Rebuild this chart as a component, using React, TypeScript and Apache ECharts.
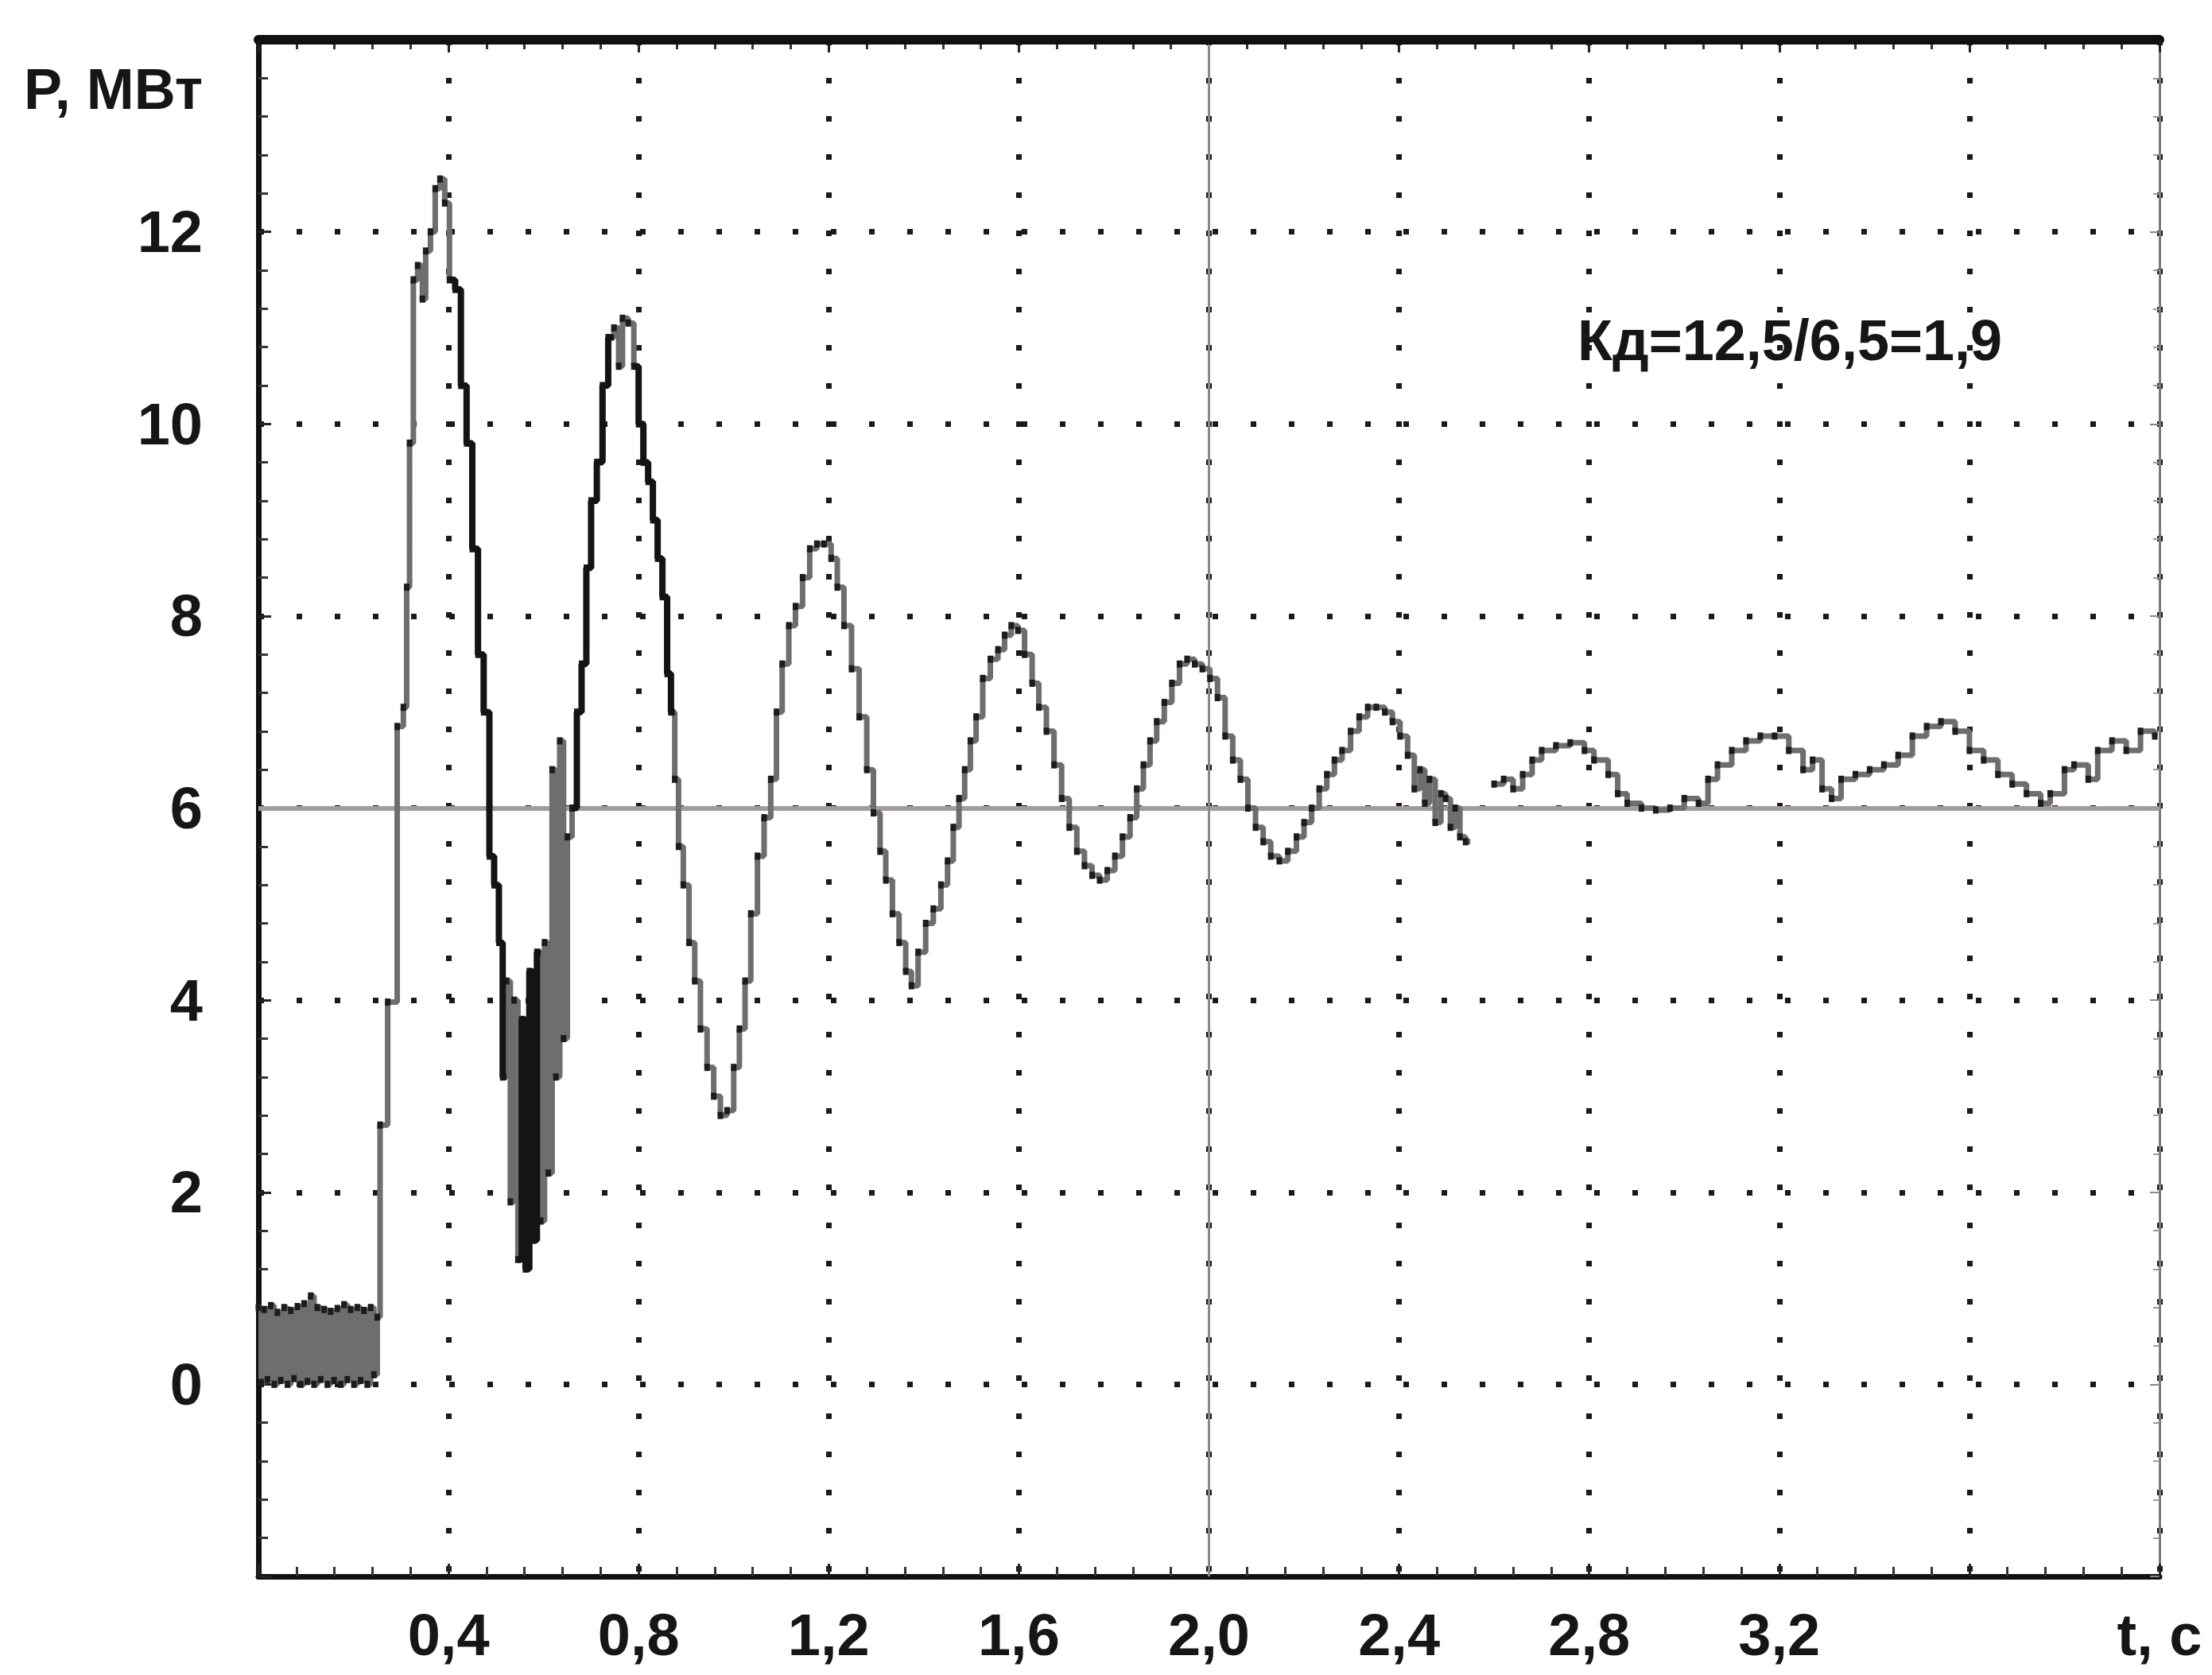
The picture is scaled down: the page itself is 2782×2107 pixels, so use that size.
import React, { useEffect, useRef } from 'react';
import * as echarts from 'echarts';

// Oscillogram of active power P (MW) versus time t (s)
const powerTrace: Array<[number, number | null]> = [
  [0.000, 0.80], [0.006, 0.02], [0.012, 0.78], [0.019, 0.05], [0.026, 0.82], [0.033, 0.00],
  [0.040, 0.75], [0.047, 0.04], [0.054, 0.80], [0.061, 0.00], [0.068, 0.77], [0.075, 0.06],
  [0.082, 0.81], [0.089, 0.00], [0.096, 0.84], [0.103, 0.03], [0.110, 0.92], [0.117, 0.00],
  [0.124, 0.80], [0.131, 0.05], [0.138, 0.78], [0.145, 0.00], [0.152, 0.76], [0.159, 0.04],
  [0.166, 0.79], [0.173, 0.00], [0.180, 0.83], [0.187, 0.05], [0.194, 0.78], [0.201, 0.00],
  [0.208, 0.80], [0.215, 0.04], [0.222, 0.77], [0.229, 0.00], [0.236, 0.80], [0.243, 0.10],
  [0.250, 0.70], [0.256, 2.70], [0.272, 3.98], [0.292, 6.85], [0.305, 7.05], [0.312, 8.30],
  [0.318, 9.80], [0.326, 11.50], [0.335, 11.65], [0.345, 11.30], [0.352, 11.80], [0.362, 12.00],
  [0.372, 12.45], [0.382, 12.55], [0.392, 12.30], [0.402, 11.50], [0.414, 11.40], [0.426, 10.40],
  [0.438, 9.80], [0.450, 8.70], [0.462, 7.60], [0.474, 7.00], [0.486, 5.50], [0.496, 5.20],
  [0.506, 4.60], [0.514, 3.20], [0.522, 4.20], [0.530, 1.90], [0.538, 4.00], [0.546, 1.30],
  [0.554, 3.80], [0.562, 1.20], [0.570, 4.30], [0.578, 1.50], [0.586, 4.50], [0.594, 1.70],
  [0.602, 4.60], [0.610, 2.20], [0.618, 6.40], [0.626, 3.20], [0.634, 6.70], [0.642, 3.60],
  [0.650, 5.70], [0.660, 6.00], [0.670, 7.00], [0.680, 7.50], [0.690, 8.50], [0.700, 9.20],
  [0.712, 9.60], [0.724, 10.40], [0.736, 10.90], [0.748, 11.00], [0.758, 10.60], [0.766, 11.10],
  [0.778, 11.05], [0.790, 10.60], [0.800, 10.00], [0.810, 9.60], [0.820, 9.40], [0.830, 9.00],
  [0.840, 8.60], [0.850, 8.20], [0.860, 7.40], [0.868, 7.00], [0.876, 6.30], [0.884, 5.60],
  [0.894, 5.20], [0.906, 4.60], [0.918, 4.20], [0.930, 3.70], [0.944, 3.30], [0.958, 3.00],
  [0.972, 2.80], [0.986, 2.85], [1.000, 3.30], [1.012, 3.70], [1.024, 4.20], [1.036, 4.90],
  [1.050, 5.50], [1.064, 5.90], [1.078, 6.30], [1.090, 7.00], [1.102, 7.50], [1.116, 7.90],
  [1.130, 8.10], [1.145, 8.40], [1.160, 8.70], [1.175, 8.75], [1.190, 8.75], [1.205, 8.60],
  [1.218, 8.30], [1.232, 7.90], [1.248, 7.45], [1.264, 6.95], [1.280, 6.40], [1.294, 5.95],
  [1.308, 5.55], [1.320, 5.25], [1.334, 4.90], [1.348, 4.60], [1.362, 4.30], [1.374, 4.15],
  [1.388, 4.50], [1.404, 4.80], [1.420, 4.95], [1.436, 5.20], [1.450, 5.45], [1.462, 5.80],
  [1.474, 6.10], [1.486, 6.40], [1.498, 6.70], [1.510, 6.95], [1.524, 7.35], [1.540, 7.55],
  [1.556, 7.65], [1.570, 7.80], [1.584, 7.90], [1.598, 7.85], [1.612, 7.60], [1.628, 7.30],
  [1.642, 7.05], [1.658, 6.80], [1.674, 6.45], [1.690, 6.10], [1.706, 5.80], [1.722, 5.55],
  [1.738, 5.40], [1.754, 5.30], [1.770, 5.25], [1.786, 5.35], [1.802, 5.50], [1.818, 5.70],
  [1.834, 5.90], [1.848, 6.20], [1.862, 6.45], [1.876, 6.70], [1.890, 6.90], [1.906, 7.10],
  [1.922, 7.30], [1.938, 7.50], [1.954, 7.55], [1.970, 7.50], [1.986, 7.45], [2.002, 7.35],
  [2.018, 7.15], [2.034, 6.75], [2.050, 6.50], [2.066, 6.30], [2.082, 6.00], [2.098, 5.80],
  [2.114, 5.65], [2.130, 5.50], [2.148, 5.45], [2.166, 5.55], [2.184, 5.70], [2.200, 5.85],
  [2.216, 6.00], [2.232, 6.20], [2.248, 6.35], [2.264, 6.50], [2.280, 6.60], [2.298, 6.80],
  [2.316, 6.95], [2.334, 7.05], [2.352, 7.05], [2.370, 7.00], [2.386, 6.90], [2.402, 6.75],
  [2.418, 6.55], [2.432, 6.20], [2.444, 6.40], [2.454, 6.05], [2.464, 6.30], [2.476, 5.85],
  [2.488, 6.15], [2.498, 6.10], [2.508, 5.80], [2.518, 6.00], [2.528, 5.70], [2.540, 5.65],
  [2.550, null],
  [2.600, 6.25], [2.620, 6.30], [2.640, 6.20], [2.660, 6.35], [2.680, 6.50], [2.700, 6.60],
  [2.730, 6.65], [2.760, 6.68], [2.790, 6.60], [2.810, 6.50], [2.840, 6.35], [2.860, 6.15],
  [2.880, 6.05], [2.910, 6.00], [2.940, 5.98], [2.970, 6.00], [3.000, 6.10], [3.030, 6.05],
  [3.050, 6.30], [3.070, 6.45], [3.100, 6.60], [3.130, 6.70], [3.160, 6.75], [3.190, 6.75],
  [3.220, 6.60], [3.250, 6.40], [3.270, 6.50], [3.290, 6.20], [3.310, 6.10], [3.330, 6.30],
  [3.360, 6.35], [3.390, 6.40], [3.420, 6.45], [3.450, 6.55], [3.480, 6.75], [3.510, 6.85],
  [3.540, 6.90], [3.570, 6.80], [3.600, 6.60], [3.630, 6.50], [3.660, 6.35], [3.690, 6.25],
  [3.720, 6.15], [3.750, 6.05], [3.770, 6.15], [3.800, 6.40], [3.820, 6.45], [3.850, 6.30],
  [3.870, 6.60], [3.900, 6.70], [3.930, 6.60], [3.960, 6.80], [3.990, 6.75],
];

// time ranges where the recorded trace is drawn in black
const darkRanges: Array<[number, number]> = [
  [0.395, 0.52], [0.545, 0.59], [0.66, 0.745], [0.79, 0.875],
];

const xTickValues = [0.4, 0.8, 1.2, 1.6, 2.0, 2.4, 2.8, 3.2, 4.0];
const xTickLabels = ['0,4', '0,8', '1,2', '1,6', '2,0', '2,4', '2,8', '3,2', 't, c'];
const yTickValues = [0, 2, 4, 6, 8, 10, 12];
const yTickLabels = ['0', '2', '4', '6', '8', '10', '12'];

const yAxisTitle = 'P, МВт';
const annotationText = 'Кд=12,5/6,5=1,9';
const referenceLevel = 6;
const markerTime = 2.0;
const topBorderLevel = 14;

const FONT = '"Liberation Sans", Arial, Helvetica, sans-serif';

function pick(values: number[], labels: string[], v: number): string {
  const i = values.findIndex((t) => Math.abs(t - v) < 1e-6);
  return i >= 0 ? labels[i] : '';
}

function buildOption(): echarts.EChartsOption {
  const darkTrace = powerTrace.map(([t, p]) =>
    darkRanges.some(([a, b]) => t >= a && t <= b) ? [t, p] : [t, null]
  );
  const labelStyle = {
    fontFamily: FONT,
    fontWeight: 'bold' as const,
    fontSize: 74,
    color: '#161616',
  };
  const dotted = { color: '#1a1a1a', width: 7, type: [7, 41] as number[] };
  return {
    animation: false,
    backgroundColor: '#ffffff',
    grid: { left: 325, right: 66, top: 50, bottom: 124, containLabel: false },
    xAxis: [
      {
        type: 'value',
        min: 0,
        max: 4,
        interval: 0.4,
        position: 'bottom',
        axisLine: { show: true, onZero: false, lineStyle: { color: '#111', width: 7 } },
        axisTick: { show: true, inside: true, length: 16, lineStyle: { color: '#222', width: 3 } },
        minorTick: { show: true, splitNumber: 5, length: 12, lineStyle: { color: '#333', width: 3 } },
        axisLabel: {
          ...labelStyle,
          margin: 36,
          formatter: (v: number) => pick(xTickValues, xTickLabels, v),
        },
        splitLine: { show: true, lineStyle: dotted },
      },
      {
        type: 'value',
        min: 0,
        max: 4,
        interval: 0.4,
        position: 'top',
        axisLine: { show: true, onZero: false, lineStyle: { color: '#0d0d0d', width: 12 } },
        axisTick: { show: true, inside: true, length: 16, lineStyle: { color: '#222', width: 3 } },
        minorTick: { show: true, splitNumber: 5, length: 12, lineStyle: { color: '#333', width: 3 } },
        axisLabel: { show: false },
        splitLine: { show: false },
      },
    ],
    yAxis: [
      {
        type: 'value',
        min: -2,
        max: 14,
        interval: 2,
        position: 'left',
        axisLine: { show: true, onZero: false, lineStyle: { color: '#111', width: 7 } },
        axisTick: { show: true, inside: true, length: 16, lineStyle: { color: '#222', width: 3 } },
        minorTick: { show: true, splitNumber: 5, length: 12, lineStyle: { color: '#333', width: 3 } },
        axisLabel: {
          ...labelStyle,
          margin: 70,
          formatter: (v: number) => pick(yTickValues, yTickLabels, v),
        },
        splitLine: { show: true, lineStyle: dotted },
      },
      {
        type: 'value',
        min: -2,
        max: 14,
        interval: 2,
        position: 'right',
        axisLine: { show: true, onZero: false, lineStyle: { color: '#7a7a7a', width: 3 } },
        axisTick: { show: true, inside: true, length: 12, lineStyle: { color: '#888', width: 2 } },
        minorTick: { show: true, splitNumber: 5, length: 8, lineStyle: { color: '#999', width: 2 } },
        axisLabel: { show: false },
        splitLine: { show: false },
      },
    ],
    graphic: [
      {
        type: 'text',
        x: 30,
        y: 112,
        style: {
          text: yAxisTitle,
          fill: '#161616',
          fontFamily: FONT,
          fontWeight: 'bold',
          fontSize: 72,
          verticalAlign: 'middle',
        },
      },
      {
        type: 'text',
        x: 1984,
        y: 428,
        z: 20,
        style: {
          text: annotationText,
          fill: '#161616',
          fontFamily: FONT,
          fontWeight: 'bold',
          fontSize: 72,
          verticalAlign: 'middle',
        },
      },
    ],
    series: [
      {
        type: 'line',
        data: [],
        silent: true,
        z: 1,
        markLine: {
          silent: true,
          symbol: 'none',
          label: { show: false },
          data: [
            { yAxis: referenceLevel, lineStyle: { color: '#a39c9c', width: 6, type: 'solid' } },
            { xAxis: markerTime, lineStyle: { color: '#8a8a8a', width: 3, type: 'solid' } },
          ],
        },
      },
      {
        type: 'line',
        data: [],
        silent: true,
        z: 10,
        markLine: {
          silent: true,
          symbol: 'none',
          label: { show: false },
          data: [
            { yAxis: topBorderLevel, lineStyle: { color: '#101010', width: 11, type: 'solid' } },
          ],
        },
      },
      {
        type: 'line',
        data: powerTrace,
        step: 'end',
        silent: true,
        z: 5,
        connectNulls: false,
        showSymbol: true,
        showAllSymbol: true,
        symbol: 'rect',
        symbolSize: [7, 9],
        itemStyle: { color: '#1c1c1c' },
        lineStyle: { color: '#6e6e6e', width: 7 },
      },
      {
        type: 'line',
        data: darkTrace,
        step: 'end',
        silent: true,
        z: 6,
        connectNulls: false,
        showSymbol: false,
        lineStyle: { color: '#141414', width: 8 },
      },
    ],
  } as echarts.EChartsOption;
}

export default function App() {
  const ref = useRef<HTMLDivElement>(null);
  useEffect(() => {
    document.body.style.margin = '0';
    const chart = echarts.init(ref.current!, null, { renderer: 'svg' });
    chart.setOption(buildOption());
    return () => chart.dispose();
  }, []);
  return <div ref={ref} style={{ width: 2782, height: 2107, background: '#fff' }} />;
}
